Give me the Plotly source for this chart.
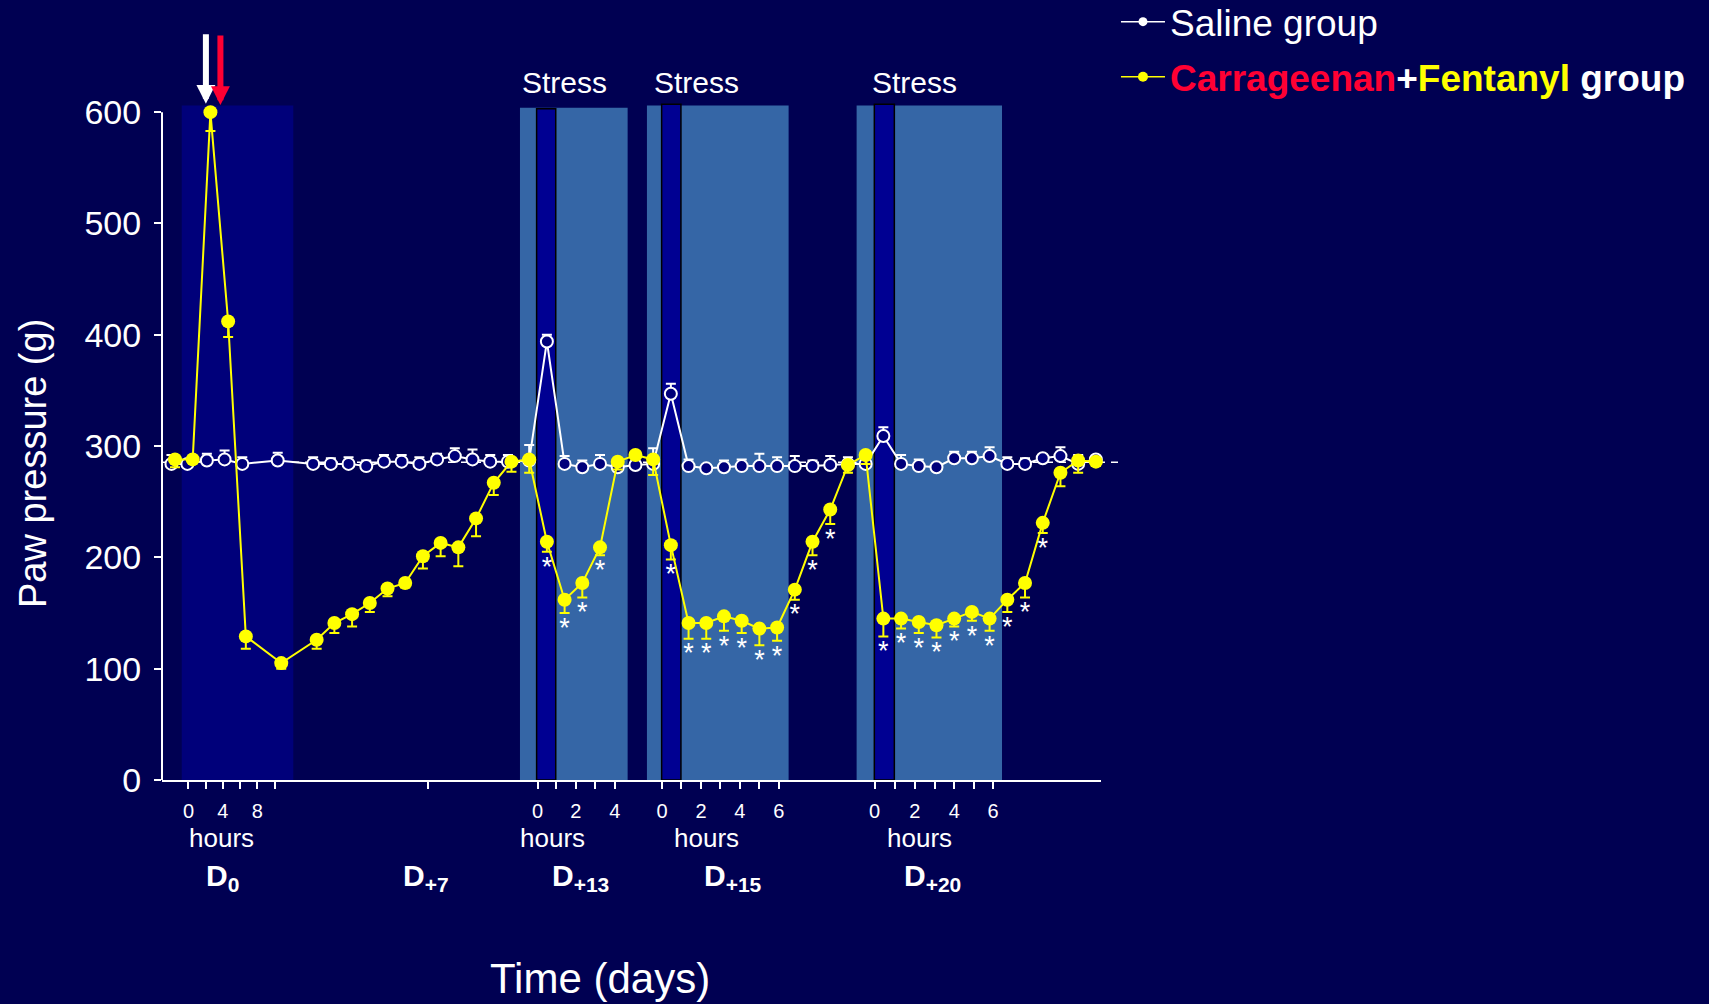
import plotly.graph_objects as go

# ---------------- measurements ----------------
# x = measurement slot along the time axis, y = paw pressure threshold (g)
saline_x = [-0.2, 0.7, 1.8, 2.8, 3.8, 5.8, 7.8, 8.8, 9.8, 10.8, 11.8, 12.8, 13.8,
            14.8, 15.8, 16.8, 17.8, 18.8, 20, 21, 22, 23, 24, 25, 26, 27, 28, 29,
            30, 31, 32, 33, 34, 35, 36, 37, 38, 39, 40, 41, 42, 43, 44, 45, 46, 47,
            48, 49, 50, 51, 52]
saline_y = [284, 284, 287, 288, 284, 287, 284, 284, 284, 282, 286, 286, 284,
            288, 291, 288, 286, 286, 287, 394, 284, 281, 284, 281, 283, 284, 347,
            282, 280, 281, 282, 282, 282, 282, 282, 283, 284, 284, 309, 284, 282,
            281, 289, 289, 291, 284, 284, 289, 291, 284, 288]
saline_sem = [8, 3, 6, 8, 6, 7, 6, 5, 6, 5, 6, 6, 6,
              5, 7, 9, 6, 6, 14, 6, 7, 6, 8, 4, 3, 14, 9,
              6, 3, 6, 6, 11, 8, 9, 5, 8, 6, 3, 8, 8, 6,
              3, 6, 6, 8, 6, 5, 3, 8, 8, 3]

cf_x = [0, 1, 2, 3, 4, 6, 8, 9, 10, 11, 12, 13, 14, 15, 16, 17, 18, 19, 20,
        21, 22, 23, 24, 25, 26, 27, 28, 29, 30, 31, 32, 33, 34, 35, 36, 37, 38,
        39, 40, 41, 42, 43, 44, 45, 46, 47, 48, 49, 50, 51, 52]
cf_y = [288, 288, 600, 412, 129, 105, 126, 141, 149, 159, 172, 177, 201, 213,
        209, 235, 267, 286, 288, 214, 162, 177, 209, 286, 292, 288, 211, 141,
        141, 147, 143, 136, 137, 171, 214, 243, 283, 292, 145, 145, 142, 139,
        145, 151, 145, 162, 177, 231, 276, 287, 286]
cf_sem = [7, 3, 17, 14, 11, 5, 8, 9, 11, 8, 7, 4, 11, 12,
          17, 16, 11, 9, 12, 9, 12, 13, 7, 7, 3, 14, 13, 14,
          14, 13, 11, 15, 12, 9, 12, 13, 7, 8, 16, 9, 10, 11,
          7, 8, 11, 11, 13, 9, 12, 11, 4]
# 1 = significant difference vs saline (marked with *)
cf_sig = [0, 0, 0, 0, 0, 0, 0, 0, 0, 0, 0, 0, 0, 0,
          0, 0, 0, 0, 0, 1, 1, 1, 1, 0, 0, 0, 1, 1,
          1, 1, 1, 1, 1, 1, 1, 1, 0, 0, 1, 1, 1, 1,
          1, 1, 1, 1, 1, 1, 0, 0, 0]

baseline = 285.5

# hour ticks within each test day
tick_pos = [0.76, 1.73, 2.70, 3.68, 4.65, 5.65, 14.27,
            20.47, 21.54, 22.64, 23.74, 24.84,
            27.5, 28.6, 29.7, 30.8, 31.9, 33.0, 34.1,
            39.5, 40.65, 41.78, 42.9, 44.0, 45.1, 46.2]
tick_text = ["0", "", "4", "", "8", "", "",
             "0", "", "2", "", "4",
             "0", "", "2", "", "4", "", "6",
             "0", "", "2", "", "4", "", "6"]

hours_pos = [2.62, 21.32, 30.03, 42.03]
day_labels = ["D<sub>0</sub>", "D<sub>+7</sub>", "D<sub>+13</sub>",
              "D<sub>+15</sub>", "D<sub>+20</sub>"]
day_pos = [2.68, 14.2, 22.87, 31.5, 42.8]

# inflammation day and stress sessions
inflam_span = [0.38, 6.68, 606]
stress_label_pos = [22.0, 29.45, 41.76]
stress_start = [19.48, 26.65, 38.49]
stress_end = [25.56, 34.65, 46.7]
stress_top = [604, 606, 606]
session_start = [20.42, 27.48, 39.49]
session_end = [21.5, 28.57, 40.62]
session_top = [603, 607, 607]

# injection arrows (saline / carrageenan)
arrow_x = [1.745, 2.565]
arrow_tip = [607.5, 606.3]
arrow_color = ["#FFFFFF", "#FF0033"]

# ---------------- styling ----------------
FONT = "Liberation Sans, Arial, sans-serif"
BG = "#000052"
NAVY = "#00007A"
STEEL = "#3566A6"
DEEP = "#000092"
Y_MAX = 610
X_RANGE = [-0.734, 52.29]

fig = go.Figure()

fig.add_trace(go.Scatter(
    x=saline_x, y=saline_y, mode="lines+markers",
    line=dict(color="white", width=2),
    marker=dict(symbol="circle", size=12, color=NAVY,
                line=dict(color="white", width=2)),
    error_y=dict(type="data", symmetric=False, array=saline_sem,
                 arrayminus=[0] * len(saline_sem),
                 color="white", thickness=2, width=5),
    showlegend=False, cliponaxis=False, hoverinfo="skip"))

fig.add_trace(go.Scatter(
    x=cf_x, y=cf_y, mode="lines+markers",
    line=dict(color="#FFFF00", width=2),
    marker=dict(symbol="circle", size=14, color="#FFFF00"),
    error_y=dict(type="data", symmetric=False, array=[0] * len(cf_sem),
                 arrayminus=cf_sem, color="#FFFF00", thickness=2, width=5),
    showlegend=False, cliponaxis=False, hoverinfo="skip"))

# significance stars under the lower error bar
star_x = [x for x, s in zip(cf_x, cf_sig) if s]
star_y = [y - e for y, e, s in zip(cf_y, cf_sem, cf_sig) if s]
fig.add_trace(go.Scatter(
    x=star_x, y=star_y, mode="markers+text", text=["*"] * len(star_x),
    textposition="bottom center",
    marker=dict(size=4, color="rgba(0,0,0,0)"),
    textfont=dict(family=FONT, size=27, color="white"),
    showlegend=False, cliponaxis=False, hoverinfo="skip"))

# legend entries
fig.add_trace(go.Scatter(
    x=[None], y=[None], mode="lines+markers", name="Saline group",
    line=dict(color="white", width=1.5),
    marker=dict(size=9, color="white"), legendgroup="a"))
fig.add_trace(go.Scatter(
    x=[None], y=[None], mode="lines+markers",
    name=("<b><span style='color:#FF0033'>Carrageenan</span>+"
          "<span style='color:#FFFF00'>Fentanyl</span> group</b>"),
    line=dict(color="#FFFF00", width=1.5),
    marker=dict(size=10, color="#FFFF00"), legendgroup="b"))

shapes = [dict(type="rect", xref="x", yref="y", layer="below",
               x0=inflam_span[0], x1=inflam_span[1], y0=0, y1=inflam_span[2],
               fillcolor=NAVY, line=dict(width=0))]
for a, b, t in zip(stress_start, stress_end, stress_top):
    shapes.append(dict(type="rect", xref="x", yref="y", layer="below",
                       x0=a, x1=b, y0=0, y1=t,
                       fillcolor=STEEL, line=dict(width=0)))
for a, b, t in zip(session_start, session_end, session_top):
    shapes.append(dict(type="rect", xref="x", yref="y", layer="below",
                       x0=a, x1=b, y0=0, y1=t,
                       fillcolor=DEEP, line=dict(color="black", width=1.5)))
# baseline reference
shapes.append(dict(type="line", xref="paper", yref="y", layer="below",
                   x0=0, x1=1.0234, y0=baseline, y1=baseline,
                   line=dict(color="white", width=1.5, dash="7px,6px")))
# y axis line stops at the top tick
shapes.append(dict(type="line", xref="paper", yref="y", layer="below",
                   x0=0, x1=0, y0=0, y1=600,
                   line=dict(color="white", width=2)))

annotations = []
for x, tip, c in zip(arrow_x, arrow_tip, arrow_color):
    annotations.append(dict(x=x, y=tip, xref="x", yref="y", text="",
                            showarrow=True, ax=0, ay=-71, arrowcolor=c,
                            arrowwidth=6, arrowhead=2, arrowsize=0.63,
                            standoff=0))
for x in stress_label_pos:
    annotations.append(dict(x=x, y=1.027, xref="x", yref="paper",
                            text="Stress", showarrow=False, yanchor="middle",
                            font=dict(family=FONT, size=30, color="white")))
for x in hours_pos:
    annotations.append(dict(x=x, y=-0.0851, xref="x", yref="paper",
                            text="hours", showarrow=False, yanchor="middle",
                            font=dict(family=FONT, size=26, color="white")))
for x, lab in zip(day_pos, day_labels):
    annotations.append(dict(x=x, y=-0.1440, xref="x", yref="paper",
                            text="<b>" + lab + "</b>", showarrow=False,
                            yanchor="middle",
                            font=dict(family=FONT, size=30, color="white")))
annotations.append(dict(x=0.4665, y=-0.293, xref="paper", yref="paper",
                        text="Time (days)", showarrow=False, yanchor="middle",
                        font=dict(family=FONT, size=42, color="white")))
annotations.append(dict(x=-0.1374, y=0.4668, xref="paper", yref="paper",
                        text="Paw pressure (g)", showarrow=False,
                        textangle=-90, xanchor="center", yanchor="middle",
                        font=dict(family=FONT, size=38, color="white")))

fig.update_layout(
    width=1709, height=1004, autosize=False,
    margin=dict(l=162, r=608, t=100.9, b=224, pad=0, autoexpand=False),
    paper_bgcolor=BG, plot_bgcolor=BG,
    font=dict(family=FONT, color="white"),
    shapes=shapes, annotations=annotations,
    legend=dict(xref="container", yref="paper", x=0.653, y=1.1618,
                xanchor="left", yanchor="top", bgcolor="rgba(0,0,0,0)",
                font=dict(family=FONT, size=37, color="white"),
                tracegroupgap=4, traceorder="grouped",
                itemwidth=44),
    xaxis=dict(range=X_RANGE, showgrid=False, zeroline=False,
               showline=True, linecolor="white", linewidth=2,
               ticks="outside", ticklen=7, tickwidth=1.5, tickcolor="white",
               tickmode="array", tickvals=tick_pos, ticktext=tick_text,
               tickfont=dict(family=FONT, size=20, color="white"),
               ticklabelstandoff=5),
    yaxis=dict(range=[0, Y_MAX], showgrid=False, zeroline=False,
               showline=False, ticks="outside", ticklen=7, tickwidth=2,
               tickcolor="white", tickmode="array",
               tickvals=[0, 100, 200, 300, 400, 500, 600],
               tickfont=dict(family=FONT, size=34, color="white"),
               ticklabelstandoff=6),
)

fig.write_html("out.html")
